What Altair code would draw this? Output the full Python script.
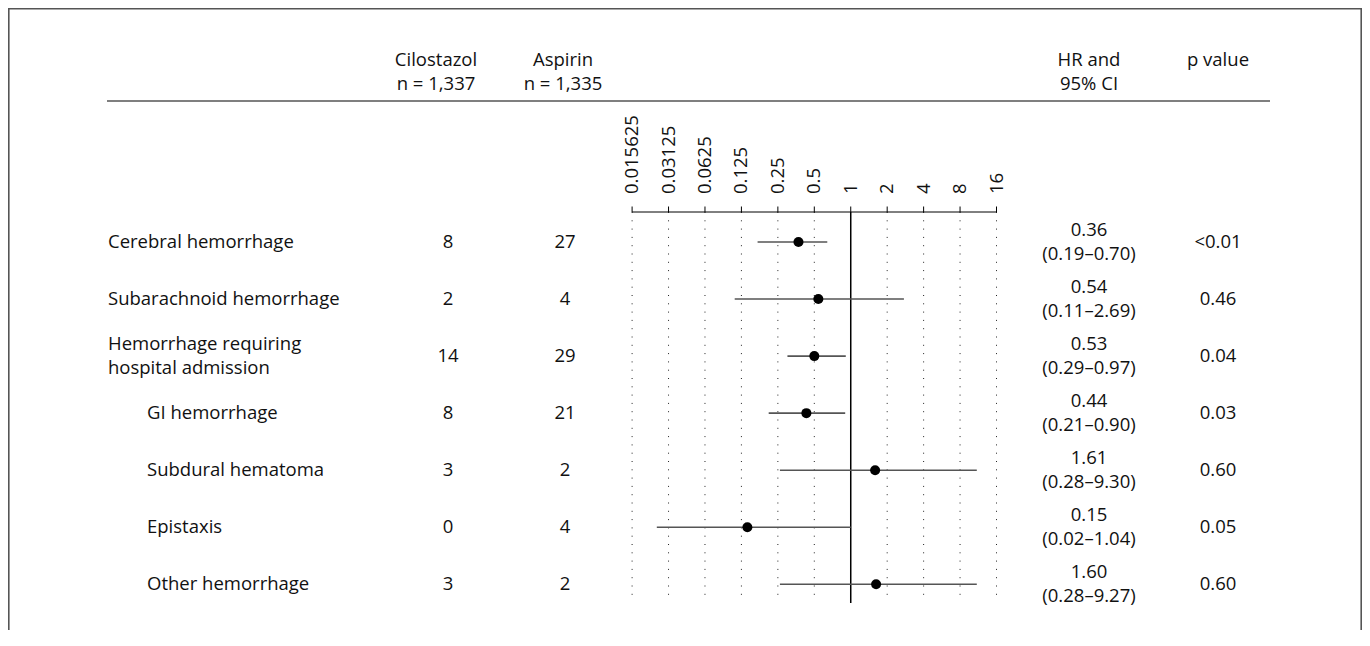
import altair as alt
import pandas as pd

# ---- data ----
labels = [
    "Cerebral hemorrhage",
    "Subarachnoid hemorrhage",
    "Hemorrhage requiring\nhospital admission",
    "GI hemorrhage",
    "Subdural hematoma",
    "Epistaxis",
    "Other hemorrhage",
]
indent = [0, 0, 0, 1, 1, 1, 1]
cilostazol = [8, 2, 14, 8, 3, 0, 3]
aspirin = [27, 4, 29, 21, 2, 4, 2]
hr_point = [0.37, 0.54, 0.50, 0.43, 1.59, 0.14, 1.62]
ci_low = [0.17, 0.11, 0.30, 0.21, 0.26, 0.025, 0.26]
ci_high = [0.64, 2.75, 0.91, 0.90, 11.0, 1.0, 11.0]
hr_text = [
    "0.36\n(0.19–0.70)",
    "0.54\n(0.11–2.69)",
    "0.53\n(0.29–0.97)",
    "0.44\n(0.21–0.90)",
    "1.61\n(0.28–9.30)",
    "0.15\n(0.02–1.04)",
    "1.60\n(0.28–9.27)",
]
p_text = ["<0.01", "0.46", "0.04", "0.03", "0.60", "0.05", "0.60"]
tick_values = [0.015625, 0.03125, 0.0625, 0.125, 0.25, 0.5, 1, 2, 4, 8, 16]
tick_labels = ["0.015625", "0.03125", "0.0625", "0.125", "0.25", "0.5",
               "1", "2", "4", "8", "16"]
grid_values = [v for v in tick_values if v != 1]
ref_value = [1]

headers = ["Cilostazol\nn = 1,337", "Aspirin\nn = 1,335", "HR and\n95% CI", "p value"]

df = pd.DataFrame({
    "label": labels,
    "indent": indent,
    "nlines": [s.count("\n") + 1 for s in labels],
    "cil": cilostazol,
    "asp": aspirin,
    "hr": hr_point,
    "lo": ci_low,
    "hi": ci_high,
    "hrt": hr_text,
    "p": p_text,
    "row": list(range(len(labels))),
})
ticks_df = pd.DataFrame({"v": tick_values, "lab": tick_labels})
dom_df = pd.DataFrame({"a": [tick_values[0]], "b": [tick_values[-1]]})

FONT = "Open Sans"
FS = 18.5
TXT = "#111111"
FRAME = "#555555"

W, H = 1354, 418
TOP = 204

xscale = alt.Scale(type="log", base=2, domain=[1 / 64, 16], range=[624.1, 988.5])
yscale = alt.Scale(domain=[0, 6], range=[30, 372.3])

base = alt.Chart(df)

# ---- log2 axis drawn on top of the forest panel ----
dom = alt.Chart(dom_df).mark_rule(color="black", strokeWidth=1).encode(
    x=alt.X("a:Q", scale=xscale, axis=None), x2="b:Q", y=alt.value(0)
)
tks = alt.Chart(ticks_df).mark_rule(color="black", strokeWidth=1).encode(
    x=alt.X("v:Q", scale=xscale, axis=None), y=alt.value(0), y2=alt.value(-5.5)
)
tlab = alt.Chart(ticks_df).mark_text(
    angle=270, align="left", baseline="middle", font=FONT, fontSize=FS, color=TXT
).encode(
    x=alt.X("v:Q", scale=xscale, axis=None), y=alt.value(-18), text="lab:N"
)

grid = alt.Chart(pd.DataFrame({"v": grid_values})).mark_rule(
    color="#222222", strokeWidth=1, strokeDash=[1, 7.3]
).encode(
    x=alt.X("v:Q", scale=xscale, axis=None),
    y=alt.value(0), y2=alt.value(389),
)

ref = alt.Chart(pd.DataFrame({"v": ref_value})).mark_rule(
    color="black", strokeWidth=1.5
).encode(
    x=alt.X("v:Q", scale=xscale, axis=None),
    y=alt.value(0), y2=alt.value(391),
)

bars = base.mark_rule(color="#555555", strokeWidth=1.6).encode(
    x=alt.X("lo:Q", scale=xscale, axis=None),
    x2="hi:Q",
    y=alt.Y("row:Q", scale=yscale, axis=None),
)

pts = base.mark_circle(size=100, color="black", opacity=1).encode(
    x=alt.X("hr:Q", scale=xscale, axis=None),
    y=alt.Y("row:Q", scale=yscale, axis=None),
)


def col_text(field, xpos, align="center", lh=24.5, flt=None, dy=0):
    c = base.mark_text(
        align=align, baseline="middle", font=FONT, fontSize=FS,
        lineBreak="\n", lineHeight=lh, color=TXT, dy=dy,
    ).encode(
        x=alt.value(xpos),
        y=alt.Y("row:Q", scale=yscale, axis=None),
        text=alt.Text(field),
    )
    if flt is not None:
        c = c.transform_filter(flt)
    return c


lab_main1 = col_text("label:N", 100, align="left", lh=24,
                     flt="datum.indent == 0 && datum.nlines == 1")
lab_main2 = col_text("label:N", 100, align="left", lh=24,
                     flt="datum.indent == 0 && datum.nlines == 2", dy=-12)
lab_sub = col_text("label:N", 139, align="left", lh=24, flt="datum.indent == 1")
cil_t = col_text("cil:Q", 440)
asp_t = col_text("asp:Q", 557)
hr_t = col_text("hrt:N", 1081, dy=-12.5)
p_t = col_text("p:N", 1210)


def header(text, xpos):
    return alt.Chart(pd.DataFrame({"t": [text]})).mark_text(
        align="center", baseline="alphabetic", font=FONT, fontSize=FS,
        lineBreak="\n", lineHeight=24, color=TXT,
    ).encode(x=alt.value(xpos), y=alt.value(-146), text="t:N")


h1 = header(headers[0], 428)
h2 = header(headers[1], 555)
h3 = header(headers[2], 1081)
h4 = header(headers[3], 1210)

one = pd.DataFrame({"a": [0]})
hrule = alt.Chart(one).mark_rule(color=FRAME, strokeWidth=1.3).encode(
    x=alt.value(99), x2=alt.value(1262), y=alt.value(-111)
)
f_top = alt.Chart(one).mark_rule(color=FRAME, strokeWidth=1.6).encode(
    x=alt.value(0), x2=alt.value(W), y=alt.value(-TOP + 0.8)
)
f_left = alt.Chart(one).mark_rule(color=FRAME, strokeWidth=1.6).encode(
    x=alt.value(0.8), y=alt.value(-TOP), y2=alt.value(H)
)
f_right = alt.Chart(one).mark_rule(color=FRAME, strokeWidth=1.6).encode(
    x=alt.value(W - 0.8), y=alt.value(-TOP), y2=alt.value(H)
)

chart = alt.layer(
    grid, ref, dom, tks, tlab, bars, pts,
    lab_main1, lab_main2, lab_sub, cil_t, asp_t, hr_t, p_t,
    h1, h2, h3, h4, hrule, f_top, f_left, f_right,
).properties(
    width=W, height=H,
    padding={"left": 0, "right": 0, "top": TOP, "bottom": 0},
    autosize=alt.AutoSizeParams(type="none"),
).configure_view(strokeWidth=0)

chart.save("out.html", embed_options={"renderer": "svg", "actions": False})
